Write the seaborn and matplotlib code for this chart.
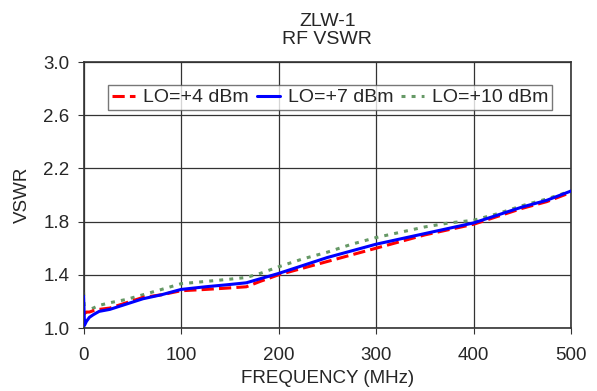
import matplotlib
matplotlib.use("Agg")
import matplotlib.pyplot as plt
import seaborn as sns
import pandas as pd

# Frequency points (MHz) and VSWR
freq = [0, 1, 3, 6, 10, 16, 27, 44, 61, 80, 100, 125, 147, 167, 181, 200, 225, 250,
        275, 300, 325, 350, 375, 400, 425, 450, 475, 500]
vswr_lo4 = [1.10, 1.11, 1.12, 1.12, 1.13, 1.14, 1.15, 1.19, 1.23, 1.25, 1.28, 1.29,
            1.30, 1.31, 1.35, 1.40, 1.45, 1.50, 1.55, 1.60, 1.65, 1.70, 1.74, 1.78,
            1.84, 1.90, 1.95, 2.02]
vswr_lo7 = [1.24, 1.02, 1.05, 1.08, 1.10, 1.125, 1.14, 1.18, 1.22, 1.25, 1.29, 1.31,
            1.325, 1.34, 1.37, 1.41, 1.47, 1.53, 1.58, 1.63, 1.67, 1.71, 1.75, 1.79,
            1.85, 1.91, 1.96, 2.03]
vswr_lo10 = [1.27, 1.11, 1.12, 1.14, 1.15, 1.17, 1.19, 1.215, 1.25, 1.29, 1.333, 1.35,
             1.365, 1.38, 1.41, 1.46, 1.52, 1.57, 1.63, 1.68, 1.72, 1.76, 1.79, 1.81,
             1.86, 1.92, 1.97, 2.03]
series_names = ["LO=+4 dBm", "LO=+7 dBm", "LO=+10 dBm"]

df = pd.concat([
    pd.DataFrame({"freq": freq, "vswr": v, "series": name})
    for name, v in zip(series_names, [vswr_lo4, vswr_lo7, vswr_lo10])
])

sns.set_style("white")
plt.rcParams["font.family"] = ["Liberation Sans", "DejaVu Sans"]

fig = plt.figure(figsize=(5.97, 3.91), dpi=100)
ax = fig.add_axes([0.1399, 0.1611, 0.8166, 0.6803])

palette = {"LO=+4 dBm": "#ff0000", "LO=+7 dBm": "#0000ff", "LO=+10 dBm": "#669966"}
dashes = {"LO=+4 dBm": (4, 1.7), "LO=+7 dBm": "", "LO=+10 dBm": (1.3, 2.0)}
sns.lineplot(data=df, x="freq", y="vswr", hue="series", style="series",
             palette=palette, dashes=dashes, linewidth=2.2, ax=ax, legend=False)

# blue drawn above the others
for line, z in zip(ax.get_lines(), [3, 4, 2]):
    line.set_zorder(z)

ax.set_xlim(0, 500)
ax.set_ylim(1.0, 3.0)
ax.set_xticks([0, 100, 200, 300, 400, 500])
ax.set_yticks([1.0, 1.4, 1.8, 2.2, 2.6, 3.0])
ax.set_yticklabels(["1.0", "1.4", "1.8", "2.2", "2.6", "3.0"])
ax.grid(True, color="#333333", linewidth=0.9)
for s in ax.spines.values():
    s.set_color("#333333")
    s.set_linewidth(1.2)
ax.tick_params(axis="both", labelsize=13.5, length=4, color="#333333", direction="out",
               left=True, bottom=True)
ax.tick_params(axis="x", pad=10)
ax.tick_params(axis="y", pad=6)

ax.set_xlabel("FREQUENCY (MHz)", fontsize=13.5, labelpad=4)
ax.set_ylabel("VSWR", fontsize=13.5)
ax.yaxis.set_label_coords(-0.108, 0.5)
ax.set_title("ZLW-1\nRF VSWR", fontsize=14, pad=13, linespacing=1.05)

handles = [plt.Line2D([], [], color=palette[n], linewidth=2.2,
                      dashes=dashes[n] if dashes[n] else (None, None)) for n in series_names]
leg = ax.legend(handles, series_names, loc="upper center", bbox_to_anchor=(0.506, 0.914),
                ncol=3, fontsize=14, frameon=True, fancybox=False, handlelength=1.2,
                columnspacing=0.4, handletextpad=0.4, borderpad=0.2, borderaxespad=0)
leg.get_frame().set_edgecolor("#555555")
leg.get_frame().set_linewidth(1.0)

fig.savefig("out.png", dpi=100)
